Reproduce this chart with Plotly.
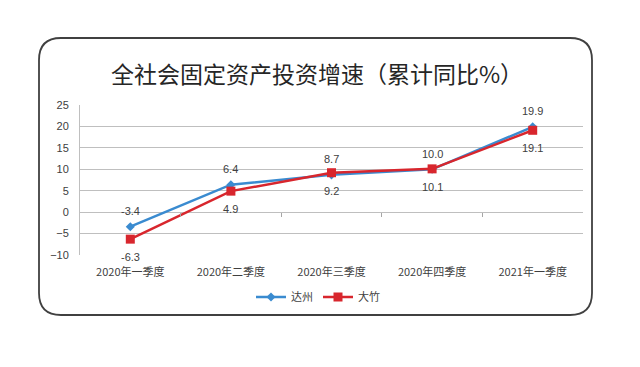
import plotly.graph_objects as go

categories = ["2020年一季度", "2020年二季度", "2020年三季度", "2020年四季度", "2021年一季度"]
dazhou = [-3.4, 6.4, 8.7, 10.0, 19.9]
dazhu = [-6.3, 4.9, 9.2, 10.1, 19.1]
y_ticks = [-10, -5, 0, 5, 10, 15, 20, 25]

W, H = 640, 367
L, R, T, B = 80, 57, 105, 112
pw, ph = W - L - R, H - T - B

def px(x):
    return (x - L) / pw

def py(y):
    return (H - B - y) / ph

blue = "#3a8bd0"
red = "#d8262d"
txt = "#404040"
num_font = dict(size=11, color=txt, family="Liberation Sans, Arial")

fig = go.Figure()
fig.add_trace(go.Scatter(
    x=categories, y=dazhou, name="达州", mode="lines+markers",
    line=dict(color=blue, width=2.5),
    marker=dict(symbol="diamond", size=7, color=blue),
))
fig.add_trace(go.Scatter(
    x=categories, y=dazhu, name="大竹", mode="lines+markers",
    line=dict(color=red, width=2.5),
    marker=dict(symbol="square", size=9, color=red),
))

annotations = []
for c, v in zip(categories, dazhou):
    annotations.append(dict(x=c, y=v, xref="x", yref="y", text=f"{v:.1f}", showarrow=False,
                            yshift=15.5, font=num_font))
for c, v in zip(categories, dazhu):
    annotations.append(dict(x=c, y=v, xref="x", yref="y", text=f"{v:.1f}", showarrow=False,
                            yshift=-18, font=num_font))

# rounded border
x0, x1 = px(39), px(592)
y0, y1 = py(315), py(38)
rx, ry = 22 / pw, 22 / ph
path = (f"M {x0+rx},{y1} L {x1-rx},{y1} Q {x1},{y1} {x1},{y1-ry} "
        f"L {x1},{y0+ry} Q {x1},{y0} {x1-rx},{y0} L {x0+rx},{y0} "
        f"Q {x0},{y0} {x0},{y0+ry} L {x0},{y1-ry} Q {x0},{y1} {x0+rx},{y1} Z")

fig.update_layout(
    width=W, height=H,
    margin=dict(l=L, r=R, t=T, b=B),
    paper_bgcolor="white", plot_bgcolor="white",
    font=dict(family="Noto Sans CJK SC", color=txt, size=11),
    title=dict(text="全社会固定资产投资增速（累计同比%）",
               x=px(317), xanchor="center", xref="paper",
               y=1 - 75 / H, yanchor="middle",
               font=dict(size=23, color="#262626", family="Noto Sans CJK SC")),
    showlegend=True,
    legend=dict(orientation="h", x=px(318), xanchor="center", y=py(297), yanchor="middle",
                font=dict(size=11, color=txt, family="Noto Sans CJK SC"),
                itemwidth=30, bgcolor="rgba(0,0,0,0)"),
    xaxis=dict(type="category", range=[-0.5, 4.5], showgrid=False, showline=False,
               ticks="", ticklabelstandoff=9,
               tickfont=dict(size=11, color=txt, family="Noto Sans CJK SC")),
    xaxis2=dict(overlaying="x", anchor="free", position=10 / 35, range=[-0.5, 4.5],
                tickvals=[0.5, 1.5, 2.5, 3.5], ticks="outside", ticklen=4,
                tickcolor="#a6a6a6", showticklabels=False, showgrid=False,
                showline=False, zeroline=False),
    yaxis=dict(range=[-10, 25], tickvals=y_ticks, showgrid=True, gridcolor="#bfbfbf",
               gridwidth=1, zeroline=True, zerolinecolor="#bfbfbf", zerolinewidth=1,
               showline=True, linecolor="#bfbfbf", linewidth=1,
               tickfont=num_font, ticks="", ticklabelstandoff=8),
    annotations=annotations,
    shapes=[dict(type="path", xref="paper", yref="paper", path=path,
                 line=dict(color="#404040", width=1.8), layer="below")],
)
fig.add_trace(go.Scatter(x=[0], y=[None], xaxis="x2", showlegend=False, hoverinfo="skip"))

fig.write_html("out.html", config={"displayModeBar": False},
               post_script="document.body.style.margin='0px';")
